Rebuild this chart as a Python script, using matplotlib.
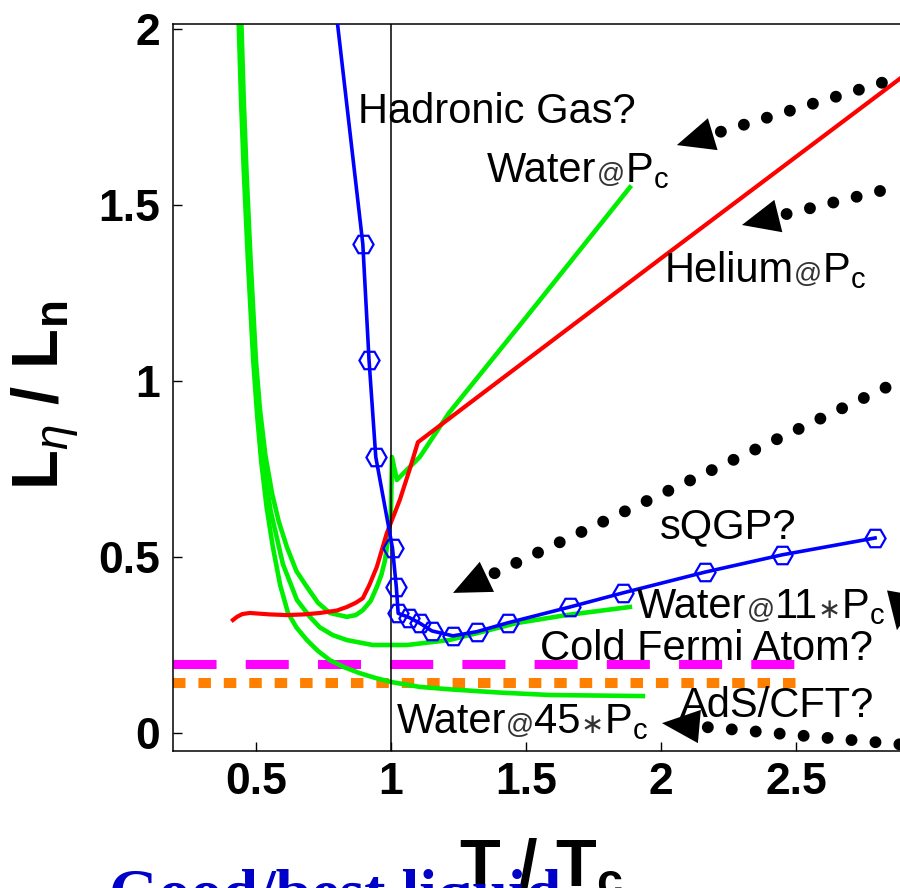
import matplotlib
matplotlib.use('Agg')
import numpy as np
import matplotlib.pyplot as plt
from matplotlib.offsetbox import TextArea, HPacker, AnnotationBbox

plt.rcParams['font.family'] = ['Liberation Sans', 'DejaVu Sans']
plt.rcParams['mathtext.fontset'] = 'custom'
plt.rcParams['mathtext.rm'] = 'Liberation Sans'
plt.rcParams['mathtext.it'] = 'Liberation Sans:italic'
plt.rcParams['mathtext.bf'] = 'Liberation Sans:bold'
plt.rcParams['lines.scale_dashes'] = False

# water @ Pc (liquid branch, jump at Tc, gas branch)
water_pc_T = [0.445, 0.455, 0.465, 0.48, 0.50, 0.515, 0.535, 0.56, 0.585, 0.615, 0.65, 0.689,
              0.73, 0.774, 0.837, 0.87, 0.896, 0.925, 0.948, 0.965, 0.978, 0.989, 1.0,
              1.004, 1.022, 1.107, 1.215, 1.50, 1.885]
water_pc_y = [2.05, 1.80, 1.60, 1.35, 1.06, 0.92, 0.79, 0.68, 0.60, 0.528, 0.46, 0.415,
              0.37, 0.341, 0.33, 0.335, 0.349, 0.375, 0.415, 0.45, 0.49, 0.548, 0.625,
              0.784, 0.719, 0.784, 0.909, 1.18, 1.55]

# water @ 11 Pc
water_11_T = [0.44, 0.45, 0.46, 0.475, 0.495, 0.51, 0.53, 0.555, 0.60, 0.652, 0.70, 0.737,
              0.785, 0.837, 0.933, 1.06, 1.215, 1.30, 1.467, 1.65, 1.885]
water_11_y = [2.05, 1.80, 1.60, 1.35, 1.06, 0.90, 0.75, 0.63, 0.48, 0.378, 0.33, 0.30,
              0.278, 0.264, 0.25, 0.25, 0.264, 0.28, 0.3125, 0.335, 0.358]

# water @ 45 Pc
water_45_T = [0.435, 0.445, 0.455, 0.47, 0.49, 0.505, 0.52, 0.54, 0.563, 0.59, 0.619, 0.65,
              0.689, 0.73, 0.774, 0.83, 0.885, 0.94, 1.0, 1.107, 1.22, 1.40, 1.589, 1.933]
water_45_y = [2.05, 1.80, 1.60, 1.35, 1.06, 0.90, 0.77, 0.64, 0.528, 0.42, 0.341, 0.30,
              0.264, 0.233, 0.207, 0.186, 0.170, 0.157, 0.145, 0.131, 0.124, 0.115, 0.108, 0.105]

# helium @ Pc
helium_T = [0.415, 0.43, 0.45, 0.478, 0.55, 0.615, 0.68, 0.737, 0.80, 0.837, 0.87, 0.896,
            0.92, 0.948, 0.985, 1.033, 1.070, 1.10, 2.0, 3.0]
helium_y = [0.321, 0.33, 0.338, 0.341, 0.337, 0.335, 0.337, 0.341, 0.348, 0.358, 0.370, 0.383,
            0.42, 0.472, 0.568, 0.662, 0.75, 0.826, 1.348, 1.925]

# QCD points, first point only extends the line above the frame
qcd_T = [0.80, 0.896, 0.919, 0.944, 1.006, 1.020, 1.027, 1.068, 1.107, 1.152, 1.230, 1.319,
         1.433, 1.663, 1.859, 2.163, 2.448, 2.793]
qcd_y = [2.03, 1.389, 1.060, 0.784, 0.525, 0.415, 0.340, 0.328, 0.312, 0.290, 0.276, 0.288,
         0.313, 0.358, 0.398, 0.457, 0.506, 0.554]

# bounds
fermi_T = [0.193, 2.515]
fermi_y = [0.195, 0.195]
ads_T = [0.193, 2.50]
ads_y = [0.142, 0.142]
tc = 1.0

# dotted arrows: (tip T, tip y, tail T, tail y)
arrows = [
    (2.059, 1.670, 3.122, 1.918),
    (2.300, 1.443, 3.126, 1.599),
    (1.230, 0.398, 3.104, 1.080),
    (2.874, 0.292, 3.067, 1.132),
    (2.004, 0.028, 3.115, -0.048),
]

# labels: (T, baseline y, pieces)
labels = [
    (0.878, 1.733, [('Hadronic Gas?', 30)]),
    (1.356, 1.565, [('Water', 30), ('@', 20), (r'P$_\mathregular{c}$', 30)]),
    (2.015, 1.281, [('Helium', 30), ('@', 20), (r'P$_\mathregular{c}$', 30)]),
    (1.996, 0.554, [('sQGP?', 30)]),
    (1.911, 0.327, [('Water', 30), ('@', 20), ('11', 30), ('\u2217', 20), (r'P$_\mathregular{c}$', 30)]),
    (1.552, 0.207, [('Cold Fermi Atom?', 30)]),
    (2.070, 0.045, [('AdS/CFT?', 30)]),
    (1.022, 0.000, [('Water', 30), ('@', 20), ('45', 30), ('\u2217', 20), (r'P$_\mathregular{c}$', 30)]),
]

xticks = [0.5, 1, 1.5, 2, 2.5]
xtick_labels = ['0.5', '1', '1.5', '2', '2.5']
yticks = [0, 0.5, 1, 1.5, 2]
ytick_labels = ['0', '0.5', '1', '1.5', '2']

fig = plt.figure(figsize=(9, 8.88), dpi=100)
ax = fig.add_axes([0.1922, 0.1543, 0.8182, 0.8187])
ax.set_xlim(0.193, 2.92)
ax.set_ylim(-0.051, 2.014)

ax.plot(fermi_T, fermi_y, color='#ff00ff', lw=6.5, dashes=(31, 21), zorder=1)
ax.plot(ads_T, ads_y, color='#ff8000', lw=7.2, dashes=(9, 9.3), zorder=1)

green = '#00ee00'
ax.plot(water_45_T, water_45_y, color=green, lw=3.3, zorder=2)
ax.plot(water_11_T, water_11_y, color=green, lw=3.3, zorder=2)
ax.plot(water_pc_T, water_pc_y, color=green, lw=3.3, zorder=2)
ax.plot(helium_T, helium_y, color='#ff0000', lw=3.0, zorder=3)
ax.axvline(tc, color='black', lw=1.1, zorder=3.5)
ax.plot(qcd_T, qcd_y, color='#0000ff', lw=2.6, marker='H', ms=14.5, mfc='none',
        mec='#0000ff', mew=1.6, markevery=slice(1, None), zorder=4)

# dotted shaft starts just behind the head
gap_px = 46
for tipx, tipy, tailx, taily in arrows:
    p_tip = ax.transData.transform((tipx, tipy))
    p_tail = ax.transData.transform((tailx, taily))
    d = (p_tail - p_tip) / np.hypot(*(p_tail - p_tip))
    start = ax.transData.inverted().transform(p_tip + gap_px * d)
    ax.plot([start[0], tailx], [start[1], taily], color='black', lw=8.6,
            dashes=(0.01, 17.3), dash_capstyle='round', zorder=5)
    ax.annotate('', xy=(tipx, tipy), xytext=(tailx, taily),
                arrowprops=dict(arrowstyle='-|>,head_length=27,head_width=12',
                                mutation_scale=1, lw=0, color='black',
                                shrinkA=0, shrinkB=0), zorder=6)


def label(T, y, pieces):
    kids = []
    for s, fs in pieces:
        c = 'black' if fs >= 30 else '#333333'
        kids.append(TextArea(s, textprops=dict(fontsize=fs, color=c)))
    box = HPacker(children=kids, align='baseline', pad=0, sep=0)
    ab = AnnotationBbox(box, (T, y), xybox=(0, -6.5), boxcoords='offset points',
                        box_alignment=(0, 0), frameon=False, pad=0, zorder=7)
    ax.add_artist(ab)


for T, y, pieces in labels:
    label(T, y, pieces)

ax.set_xticks(xticks)
ax.set_xticklabels(xtick_labels)
ax.set_yticks(yticks)
ax.set_yticklabels(ytick_labels)
ax.tick_params(direction='in', length=6.5, width=1, labelsize=32, top=False, right=False)
ax.tick_params(axis='x', pad=8)
ax.tick_params(axis='y', pad=9)
for t in ax.get_xticklabels() + ax.get_yticklabels():
    t.set_fontweight('bold')
for sp in ax.spines.values():
    sp.set_linewidth(1.1)

fig.text(541 / 900, 1 - 885 / 888, r'T / T$_\mathbf{c}$', fontsize=48, fontweight='bold',
         ha='center', va='baseline')
fig.text(45 / 900, 1 - 395 / 888, r'L$_\eta$ / L$_\mathbf{n}$', fontsize=47, fontweight='bold',
         rotation=90, ha='center', va='center')
fig.text(109 / 900, 1 - 913 / 888, 'Good/best liquid', color='#0000c8', fontsize=46,
         fontweight='bold', family='Liberation Serif', ha='left', va='baseline')

fig.savefig('out.png', dpi=100)
